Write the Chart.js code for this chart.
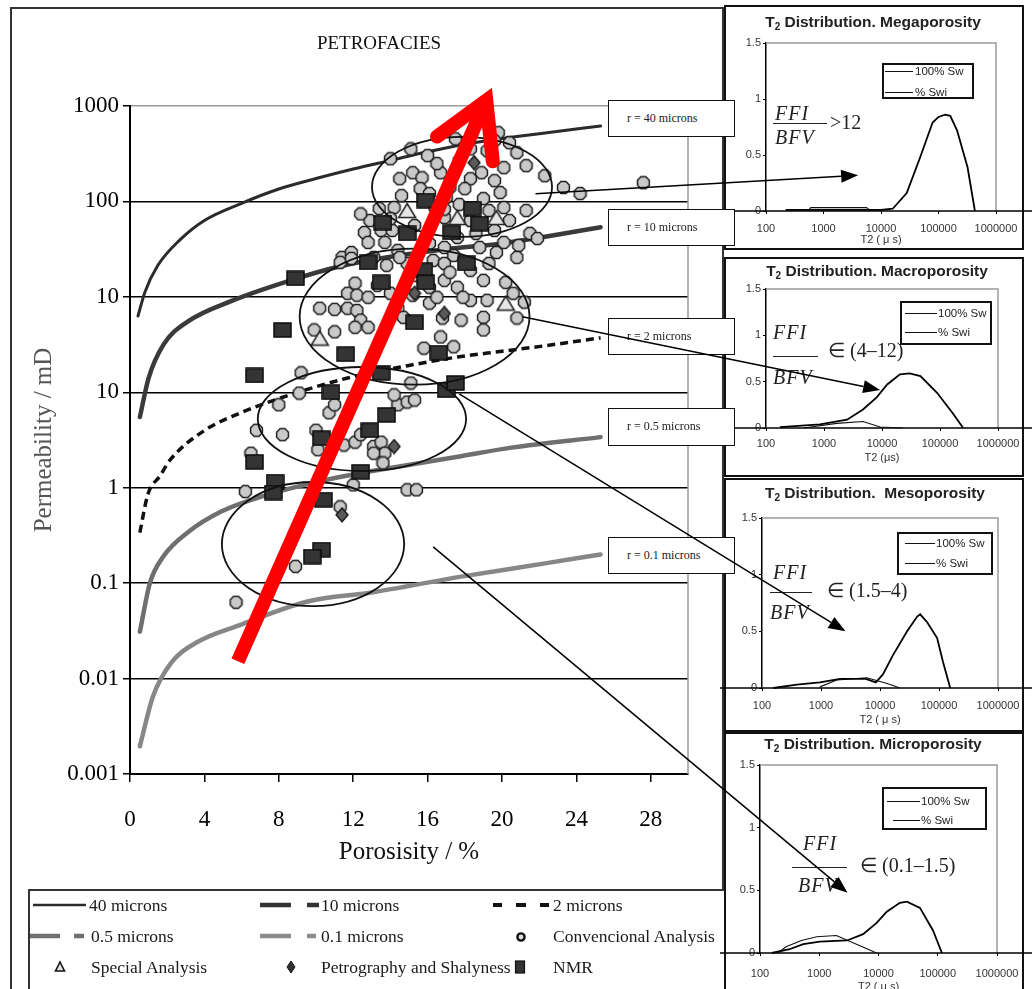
<!DOCTYPE html>
<html>
<head>
<meta charset="utf-8">
<title>Petrofacies</title>
<script src="https://cdn.jsdelivr.net/npm/chart.js@4.4.1/dist/chart.umd.min.js"></script>
<style>
  html, body { margin:0; padding:0; background:#fff; }
  body { position:relative; width:1032px; height:989px; overflow:hidden; font-family:'Liberation Serif','Times New Roman',serif; color:#111; }
  .abs { position:absolute; }
  #frame { left:10px; top:7px; width:714px; height:1010px; border:2px solid #333; box-sizing:border-box; z-index:0; }
  #mainCanvas { left:10px; top:7px; z-index:1; }
  #mainTitle { left:279px; top:33px; width:200px; text-align:center; font-size:19px; line-height:20px; z-index:2; color:#111; }
  #legendBox { left:28px; top:889px; width:712px; height:120px; border:2px solid #333; box-sizing:border-box; z-index:1; background:#fff; }
  #legendSym { left:0; top:880px; z-index:2; }
  .lg { position:absolute; font-size:17.5px; line-height:20px; white-space:nowrap; z-index:2; color:#1a1a1a; }
  .rbox { position:absolute; left:608px; width:127px; border:1.5px solid #111; box-sizing:border-box; background:#fff; z-index:5; font-size:12px; padding-left:18px; white-space:nowrap; color:#222; }
  .panel { position:absolute; left:724px; width:300px; border:2px solid #111; box-sizing:border-box; background:#fff; z-index:3; }
  .pcanvas { position:absolute; left:716px; z-index:4; }
  .ptitle { position:absolute; width:260px; text-align:center; font-family:'Liberation Sans',Arial,sans-serif; font-weight:bold; font-size:15.5px; line-height:18px; z-index:6; white-space:pre; color:#222; }
  .ptitle .sub { font-size:10px; vertical-align:-3px; }
  .plegend { position:absolute; border:2px solid #111; box-sizing:border-box; background:#fff; z-index:6; }
  .prow { position:absolute; font-family:'Liberation Sans',Arial,sans-serif; font-size:11.5px; line-height:12px; white-space:nowrap; z-index:7; color:#222; }
  .pline { position:absolute; height:0; border-top:1.3px solid #111; z-index:7; }
  .fx { position:absolute; font-style:italic; font-size:20px; line-height:22px; z-index:6; white-space:nowrap; color:#222; letter-spacing:1px; }
  .fx.up { font-style:normal; letter-spacing:0; }
  .fbar { position:absolute; height:0; border-top:1.5px solid #222; z-index:6; }
  #overlay { left:0; top:0; z-index:8; pointer-events:none; }
</style>
</head>
<body>
<div id="frame" class="abs"></div>
<canvas id="mainCanvas" class="abs" width="713" height="880"></canvas>
<div id="mainTitle" class="abs">PETROFACIES</div>

<div id="legendBox" class="abs"></div>
<svg id="legendSym" class="abs" width="740" height="109">
  <line x1="33" y1="25" x2="86" y2="25" stroke="#2b2b2b" stroke-width="2.5"/>
  <line x1="260" y1="25" x2="291" y2="25" stroke="#333" stroke-width="4.5"/>
  <line x1="307" y1="25" x2="319" y2="25" stroke="#333" stroke-width="4.5"/>
  <g stroke="#111" stroke-width="4">
    <line x1="493" y1="25" x2="502" y2="25"/><line x1="516" y1="25" x2="526" y2="25"/><line x1="540" y1="25" x2="549" y2="25"/>
  </g>
  <line x1="30" y1="56" x2="60" y2="56" stroke="#6f6f6f" stroke-width="4.5"/>
  <line x1="74" y1="56" x2="84" y2="56" stroke="#6f6f6f" stroke-width="4.5"/>
  <line x1="260" y1="56" x2="291" y2="56" stroke="#8a8a8a" stroke-width="4.5"/>
  <line x1="307" y1="56" x2="316" y2="56" stroke="#8a8a8a" stroke-width="4.5"/>
  <circle cx="521" cy="57" r="3.6" fill="#dcdcdc" stroke="#111" stroke-width="2.4"/>
  <polygon points="60,82 64.5,91 55.5,91" fill="#e4e4e4" stroke="#111" stroke-width="1.6"/>
  <polygon points="291,81 295,87 291,93 287,87" fill="#333" stroke="#111" stroke-width="1"/>
  <rect x="515.5" y="81" width="9" height="12" fill="#333" stroke="#111" stroke-width="1.2"/>
</svg>
<div class="lg" style="left:89px;top:895px">40 microns</div>
<div class="lg" style="left:321px;top:895px">10 microns</div>
<div class="lg" style="left:553px;top:895px">2 microns</div>
<div class="lg" style="left:91px;top:926px">0.5 microns</div>
<div class="lg" style="left:321px;top:926px">0.1 microns</div>
<div class="lg" style="left:553px;top:926px">Convencional Analysis</div>
<div class="lg" style="left:91px;top:957px">Special Analysis</div>
<div class="lg" style="left:321px;top:957px">Petrography and Shalyness</div>
<div class="lg" style="left:553px;top:957px">NMR</div>

<div class="rbox" style="top:100px;height:37px;line-height:34px">r = 40 microns</div>
<div class="rbox" style="top:209px;height:37px;line-height:34px">r = 10 microns</div>
<div class="rbox" style="top:318px;height:37px;line-height:34px">r = 2 microns</div>
<div class="rbox" style="top:408px;height:38px;line-height:35px">r = 0.5 microns</div>
<div class="rbox" style="top:537px;height:37px;line-height:34px">r = 0.1 microns</div>

<canvas id="overlay" class="abs" width="1032" height="989"></canvas>

<script>
// ---------- Main plot: permeability vs porosity ----------
const porosityTicks = [0, 4, 8, 12, 16, 20, 24, 28];
const permTickValues = [0.001, 0.01, 0.1, 1, 10, 100, 1000, 10000];
const permTickLabels = ['0.001', '0.01', '0.1', '1', '10', '10', '100', '1000'];

// Pore-throat radius iso-lines (porosity %, permeability mD)
const r40Phi = [0.43, 0.8, 1.5, 2.7, 4, 6, 8, 10, 12, 14, 16, 18, 20, 22, 25.3];
const r40K   = [63, 112, 214, 398, 631, 955, 1349, 1738, 2188, 2692, 3311, 3981, 4571, 5129, 6166];
const r10Phi = [0.53, 1.0, 1.8, 3.1, 5.5, 8.6, 11.3, 14, 17, 20, 22, 25.3];
const r10K   = [5.5, 14.1, 31.6, 55.0, 91.2, 148, 209, 263, 316, 363, 417, 537];
const r2Phi  = [0.53, 0.96, 1.6, 2.2, 4, 5.9, 8.1, 11.7, 15, 17.6, 20, 22.4, 25.3];
const r2K    = [0.339, 0.851, 1.32, 2.0, 3.98, 6.03, 8.71, 14.1, 19.1, 23.4, 26.9, 30.9, 37.2];
const r05Phi = [0.53, 1.07, 1.8, 3.1, 4.9, 7.3, 10.5, 14.4, 17.8, 20.5, 25.3];
const r05K   = [0.0309, 0.1, 0.191, 0.339, 0.562, 0.832, 1.2, 1.66, 2.14, 2.63, 3.39];
const r01Phi = [0.53, 1.23, 2.2, 3.6, 5.9, 9.6, 12.9, 17.8, 22.4, 25.3];
const r01K   = [0.00195, 0.00646, 0.0145, 0.024, 0.0363, 0.0646, 0.0794, 0.117, 0.162, 0.2];

// Samples [porosity %, permeability mD]
const conventional = [
  [19.8,5250],[20.4,4120],[20.8,3240],[21.3,2370],[22.3,1860],[23.3,1400],[24.2,1210],[20.1,2260],[19.6,1650],[19.9,1240],
  [18.9,2000],[18.3,1730],[18.0,1360],[17.2,1400],[16.7,2000],[16.5,2490],[15.2,2000],[15.7,1770],[15.6,1360],[14.6,1150],
  [14.2,863],[13.4,843],[19.0,1070],[19.3,803],[20.1,863],[21.3,803],[20.4,631],[21.5,462],[21.9,409],[20.9,346],
  [20.1,372],[19.6,496],[18.6,462],[18.3,631],[16.9,678],[16.4,863],[16.1,1210],[17.0,1100],[12.9,631],[12.6,473],
  [13.5,496],[14.1,496],[12.8,372],[13.7,372],[14.4,307],[11.4,259],[11.9,292],[16.1,363],[16.9,330],[17.6,419],
  [18.8,330],[19.7,292],[20.8,259],[27.6,1570],[16.0,3020],[17.7,2670],[19.2,3400],[19.6,4330],
  [14.5,1730],[14.0,2800],[17.5,4530],[15.1,3550],[18.3,3550],[16.9,830],[17.7,930],[14.0,660],[12.4,740],[15.3,560],
  [11.3,230],[12.1,139],[11.7,109],[12.2,104],[12.8,99],[10.2,76],[11.0,74],[11.7,76],[12.2,72],[12.4,57],
  [12.1,48],[12.8,48],[9.9,45],[11.0,43],[14.0,109],[14.4,76],[14.7,61],[16.1,86],[16.1,126],[16.9,149],
  [17.6,126],[18.3,92],[19.2,92],[17.9,99],[16.5,99],[14.9,224],[16.3,241],[16.9,224],[17.2,181],[18.3,190],
  [19.3,224],[19.0,149],[20.2,142],[20.6,109],[21.2,88],[19.0,61],[19.0,45],[16.7,38],[15.8,29],[17.4,30],
  [17.4,272],[14.5,259],[13.1,259],[11.9,253],[13.8,214],[15.4,168],[13.3,132],[15.2,104],[16.8,60],[17.8,57],[20.8,60],
  [9.2,16],[9.1,9.8],[8.0,7.4],[6.8,4.0],[8.2,3.6],[10.0,4.0],[10.7,6.1],[11.0,7.4],[11.5,2.8],[12.1,3.0],
  [12.4,3.6],[13.1,2.7],[13.5,3.0],[13.7,2.3],[13.1,2.3],[13.6,1.82],[14.4,7.4],[14.9,7.9],[15.3,8.3],[14.2,9.4],
  [15.1,12.5],[10.1,2.5],[6.5,2.3],[6.2,0.91],[12.0,1.07],[11.3,0.63],[14.9,0.95],[15.4,0.95],[8.9,0.15],[5.7,0.063]
];
const special = [[14.9,803],[17.6,678],[19.7,678],[20.2,86],[10.2,37]];
const petrography = [[16.9,67],[15.3,109],[14.2,2.7],[11.4,0.52],[18.5,2550]];
const nmr = [
  [8.9,156],[12.8,230],[13.5,142],[15.8,190],[15.9,142],[18.1,224],[15.3,54],[8.2,45],[11.6,25],[16.6,26],
  [10.8,10],[13.5,16],[17.0,10.5],[17.5,12.5],[6.7,15],[13.8,5.8],[12.9,4.0],[10.3,3.3],[6.7,1.87],[7.8,1.16],
  [7.7,0.89],[12.4,1.47],[10.4,0.75],[10.3,0.225],[9.8,0.19],[15.9,1020],[18.4,843],[18.8,587],[17.3,473],[14.9,462],[13.6,601]
];

// Petrofacies groups (centre porosity, centre permeability, half-width in %, half-height in decades)
const groupPhi = [17.85, 15.3, 12.47, 9.84];
const groupK = [1420, 62, 5.25, 0.257];
const groupHalfPhi = [4.84, 6.18, 5.6, 4.9];
const groupHalfDecades = [0.524, 0.713, 0.545, 0.65];

// Quality trend arrow, [porosity, permeability]
const trendFrom = [5.8, 0.0152];
const trendTo = [19.46, 15500];

// ---------- T2 distribution panels ----------
const t2Ticks = [100, 1000, 10000, 100000, 1000000];
const t2TickLabels = ['100', '1000', '10000', '100000', '1000000'];
const ampTicks = [0, 0.5, 1, 1.5];
const ampTickLabels = ['0', '0.5', '1', '1.5'];

const megaT2Sw   = [220, 1000, 10000, 16000, 28000, 48000, 79000, 100000, 130000, 160000, 210000, 320000, 430000];
const megaAmpSw  = [0.01, 0.01, 0.01, 0.02, 0.16, 0.48, 0.79, 0.84, 0.86, 0.85, 0.72, 0.39, 0];
const megaT2Swi  = [560, 600, 5600, 6300];
const megaAmpSwi = [0.01, 0.03, 0.03, 0.01];

const macroT2Sw   = [174, 850, 2500, 4700, 8100, 12300, 20400, 30000, 46000, 89000, 166000, 251000];
const macroAmpSw  = [0.01, 0.04, 0.09, 0.2, 0.33, 0.47, 0.58, 0.59, 0.56, 0.38, 0.16, 0];
const macroT2Swi  = [440, 1660, 4700, 9300, 23000];
const macroAmpSwi = [0, 0.05, 0.07, 0.01, 0];

const mesoT2Sw   = [155, 390, 955, 2100, 5750, 8500, 11200, 16600, 28800, 42700, 47900, 63000, 93000, 117000, 155000];
const mesoAmpSw  = [0, 0.03, 0.05, 0.08, 0.08, 0.05, 0.12, 0.29, 0.5, 0.63, 0.65, 0.58, 0.44, 0.23, 0];
const mesoT2Swi  = [955, 1860, 6000, 13200, 21900];
const mesoAmpSwi = [0.01, 0.07, 0.09, 0.04, 0];

const microT2Sw   = [158, 316, 537, 1020, 2950, 5500, 9300, 13800, 22900, 30200, 50100, 83200, 117500];
const microAmpSw  = [0, 0.03, 0.07, 0.09, 0.1, 0.15, 0.24, 0.33, 0.4, 0.41, 0.36, 0.18, 0];
const microT2Swi  = [200, 275, 500, 910, 1950, 3800, 9300];
const microAmpSwi = [0, 0.05, 0.1, 0.13, 0.14, 0.08, 0];

// Links from each petrofacies group to its T2 panel
const linkFromPhi = [21.8, 21.1, 17.7, 16.3];
const linkFromK = [1200, 62, 9.6, 0.24];
const linkToT2 = [4000, 9300, 2600, 3000];
const linkToAmp = [0.32, 0.41, 0.5, 0.48];

// ---------- helpers ----------
const SERIF = "'Liberation Serif', 'Times New Roman', serif";
const SANS = "'Liberation Sans', Arial, sans-serif";
const pairsXY = arr => arr.map(([x, y]) => ({x, y}));
const toXY = (xs, ys) => xs.map((v, i) => ({x: v, y: ys[i]}));
const setTicks = values => scale => { scale.ticks = values.map(v => ({value: v})); };

function marker(w, h, paint) {
  const c = document.createElement('canvas');
  c.width = w; c.height = h;
  paint(c.getContext('2d'));
  return c;
}
const octMarker = marker(15, 15, g => {
  g.beginPath();
  for (let i = 0; i < 8; i++) {
    const a = Math.PI / 8 + i * Math.PI / 4;
    g.lineTo(7.5 + 6.4 * Math.cos(a), 7.5 + 6.4 * Math.sin(a));
  }
  g.closePath(); g.fillStyle = '#c9c9c9'; g.fill();
  g.lineWidth = 1.5; g.strokeStyle = '#1d1d1d'; g.stroke();
});
const nmrMarker = marker(19, 16, g => {
  g.fillStyle = '#343434'; g.fillRect(1, 1, 17, 14);
  g.lineWidth = 1.5; g.strokeStyle = '#0a0a0a'; g.strokeRect(1, 1, 17, 14);
});
const triMarker = marker(20, 17, g => {
  g.beginPath(); g.moveTo(10, 1.5); g.lineTo(18.5, 15.5); g.lineTo(1.5, 15.5); g.closePath();
  g.fillStyle = '#e6e6e6'; g.fill(); g.lineWidth = 1.5; g.strokeStyle = '#222'; g.stroke();
});
const diaMarker = marker(14, 16, g => {
  g.beginPath(); g.moveTo(7, 1); g.lineTo(13, 8); g.lineTo(7, 15); g.lineTo(1, 8); g.closePath();
  g.fillStyle = '#5a5a5a'; g.fill(); g.lineWidth = 1.3; g.strokeStyle = '#111'; g.stroke();
});

// ---------- main chart ----------
const curveDefs = [
  {label: '40 microns',  phi: r40Phi, k: r40K, color: '#2b2b2b', width: 3,   dash: []},
  {label: '10 microns',  phi: r10Phi, k: r10K, color: '#3a3a3a', width: 4.5, dash: []},
  {label: '2 microns',   phi: r2Phi,  k: r2K,  color: '#111111', width: 3.5, dash: [8, 5]},
  {label: '0.5 microns', phi: r05Phi, k: r05K, color: '#6f6f6f', width: 4.5, dash: []},
  {label: '0.1 microns', phi: r01Phi, k: r01K, color: '#878787', width: 4.5, dash: []}
];

const mainDecor = {
  id: 'mainDecor',
  beforeDatasetsDraw(chart) {
    const {ctx, chartArea: a} = chart;
    ctx.save();
    ctx.strokeStyle = '#9a9a9a'; ctx.lineWidth = 1.5;
    ctx.beginPath(); ctx.moveTo(a.right, a.top); ctx.lineTo(a.right, a.bottom); ctx.stroke();
    ctx.restore();
  },
  afterDatasetsDraw(chart) {
    const {ctx, scales: {x, y}} = chart;
    ctx.save();
    // petrofacies ellipses
    ctx.strokeStyle = '#111'; ctx.lineWidth = 1.8;
    groupPhi.forEach((p, i) => {
      const cx = x.getPixelForValue(p), cy = y.getPixelForValue(groupK[i]);
      const rx = x.getPixelForValue(p + groupHalfPhi[i]) - cx;
      const ry = cy - y.getPixelForValue(groupK[i] * Math.pow(10, groupHalfDecades[i]));
      ctx.beginPath(); ctx.ellipse(cx, cy, rx, ry, 0, 0, Math.PI * 2); ctx.stroke();
    });
    // reservoir-quality trend arrow
    const x0 = x.getPixelForValue(trendFrom[0]), y0 = y.getPixelForValue(trendFrom[1]);
    const x1 = x.getPixelForValue(trendTo[0]), y1 = y.getPixelForValue(trendTo[1]);
    const len = Math.hypot(x1 - x0, y1 - y0), ux = (x1 - x0) / len, uy = (y1 - y0) / len;
    const w = 14, spread = 30 * Math.PI / 180, wing = 61;
    const tx = x1 - ux * (w / 2) / Math.sin(spread), ty = y1 - uy * (w / 2) / Math.sin(spread);
    ctx.strokeStyle = '#ff0000'; ctx.lineWidth = w;
    ctx.lineCap = 'butt';
    ctx.beginPath(); ctx.moveTo(x0, y0); ctx.lineTo(tx, ty); ctx.stroke();
    const back = Math.atan2(-uy, -ux);
    ctx.lineCap = 'round'; ctx.lineJoin = 'miter'; ctx.miterLimit = 10;
    ctx.beginPath();
    ctx.moveTo(tx + wing * Math.cos(back + spread), ty + wing * Math.sin(back + spread));
    ctx.lineTo(tx, ty);
    ctx.lineTo(tx + wing * Math.cos(back - spread), ty + wing * Math.sin(back - spread));
    ctx.stroke();
    ctx.restore();
  }
};

const mainChart = new Chart(document.getElementById('mainCanvas'), {
  type: 'scatter',
  data: {
    datasets: [
      ...curveDefs.map(c => ({
        label: c.label, data: toXY(c.phi, c.k), showLine: true,
        borderColor: c.color, borderWidth: c.width, borderDash: c.dash,
        borderCapStyle: c.dash.length ? 'butt' : 'round',
        pointRadius: 0, cubicInterpolationMode: 'monotone', order: 10
      })),
      {label: 'Convencional Analysis', data: pairsXY(conventional), pointStyle: octMarker, pointRadius: 7, order: 4},
      {label: 'NMR', data: pairsXY(nmr), pointStyle: nmrMarker, pointRadius: 8, order: 3},
      {label: 'Special Analysis', data: pairsXY(special), pointStyle: triMarker, pointRadius: 8, order: 2},
      {label: 'Petrography and Shalyness', data: pairsXY(petrography), pointStyle: diaMarker, pointRadius: 7, order: 1}
    ]
  },
  options: {
    responsive: false, animation: false, events: [],
    layout: {padding: {top: 99, right: 35, bottom: 0, left: 0}},
    plugins: {legend: {display: false}, tooltip: {enabled: false}},
    scales: {
      x: {
        type: 'linear', min: 0, max: 30,
        afterBuildTicks: setTicks(porosityTicks),
        afterFit: s => { s.height = 113; },
        grid: {drawOnChartArea: false, drawTicks: true, tickLength: 8, color: '#000', lineWidth: 1.5},
        border: {display: true, color: '#000', width: 2},
        ticks: {autoSkip: false, maxRotation: 0, padding: 24, color: '#000', font: {family: SERIF, size: 23}, callback: v => String(v)},
        title: {display: true, text: 'Porosisity / %', color: '#111', font: {family: SERIF, size: 25}, padding: {top: 0, bottom: 20}}
      },
      y: {
        type: 'logarithmic', min: 0.001, max: 10000,
        afterBuildTicks: setTicks(permTickValues),
        afterFit: s => { s.width = 120; },
        grid: {
          color: c => (c.tick && c.tick.value === 10000) ? '#9a9a9a' : '#000',
          lineWidth: 1.5, tickLength: 7, tickColor: '#000', tickWidth: 1.5
        },
        border: {display: true, color: '#000', width: 2},
        ticks: {autoSkip: false, padding: 4, color: '#000', font: {family: SERIF, size: 23}, callback: (v, i) => permTickLabels[i]},
        title: {display: true, text: 'Permeability / mD', color: '#555', font: {family: SERIF, size: 25}, padding: {top: 19, bottom: 0}}
      }
    }
  },
  plugins: [mainDecor]
});

// ---------- T2 panels ----------
const panelSeries = [
  {sw: toXY(megaT2Sw, megaAmpSw),   swi: toXY(megaT2Swi, megaAmpSwi)},
  {sw: toXY(macroT2Sw, macroAmpSw), swi: toXY(macroT2Swi, macroAmpSwi)},
  {sw: toXY(mesoT2Sw, mesoAmpSw),   swi: toXY(mesoT2Swi, mesoAmpSwi)},
  {sw: toXY(microT2Sw, microAmpSw), swi: toXY(microT2Swi, microAmpSwi)}
];

const panelLayout = [
  {top: 5, boxH: 245, canvasH: 245, yw: 50, padR: 36, padT: 38, plotBottom: 206, lblPad: 8, titlePadB: 3,
   title: 'T<span class="sub">2</span> Distribution. Megaporosity', titleC: [873, 22], xTitle: 'T2 ( \u03bc s)',
   legend: {x: 882, y: 63, w: 92, h: 36, rows: [[71, 885, 913, 915], [92, 885, 913, 915]]},
   ffi: [775, 113], bar: [773, 827, 123], bfv: [775, 137], rel: '&gt;12', relAt: [830, 122]},
  {top: 257, boxH: 220, canvasH: 218, yw: 50, padR: 34, padT: 32, plotBottom: 171, lblPad: 6, titlePadB: 10,
   title: 'T<span class="sub">2</span> Distribution. Macroporosity', titleC: [877, 271], xTitle: 'T2 (\u03bcs)',
   legend: {x: 900, y: 301, w: 92, h: 44, rows: [[313, 905, 937, 938], [332, 905, 937, 938]]},
   ffi: [773, 332], bar: [773, 818, 356], bfv: [773, 377], rel: '\u2208 (4\u201312)', relAt: [828, 350]},
  {top: 478, boxH: 254, canvasH: 252, yw: 46, padR: 34, padT: 40, plotBottom: 210, lblPad: 8, titlePadB: 3,
   title: 'T<span class="sub">2</span> Distribution.  Mesoporosity', titleC: [875, 493], xTitle: 'T2 ( \u03bc s)',
   legend: {x: 897, y: 532, w: 96, h: 43, rows: [[543, 905, 935, 936], [563, 905, 935, 936]]},
   ffi: [773, 572], bar: [770, 812, 592], bfv: [770, 612], rel: '\u2208 (1.5\u20134)', relAt: [827, 590]},
  {top: 732, boxH: 270, canvasH: 262, yw: 44, padR: 35, padT: 33, plotBottom: 221, lblPad: 11, titlePadB: 0,
   title: 'T<span class="sub">2</span> Distribution. Microporosity', titleC: [873, 744], xTitle: 'T2 ( \u03bc s)',
   legend: {x: 882, y: 787, w: 105, h: 43, rows: [[801, 887, 920, 921], [820, 893, 920, 921]]},
   ffi: [803, 843], bar: [792, 847, 867], bfv: [798, 885], rel: '\u2208 (0.1\u20131.5)', relAt: [860, 865]}
];

function el(tag, cls, style, html) {
  const e = document.createElement(tag);
  if (cls) e.className = cls;
  Object.assign(e.style, style);
  if (html != null) e.innerHTML = html;
  document.body.appendChild(e);
  return e;
}

const panelFrame = {
  id: 'panelFrame',
  beforeDatasetsDraw(chart) {
    const {ctx, chartArea: a, scales: {y}} = chart;
    ctx.save();
    ctx.strokeStyle = '#9a9a9a'; ctx.lineWidth = 1.5;
    ctx.beginPath(); ctx.moveTo(a.left, a.top); ctx.lineTo(a.right, a.top); ctx.lineTo(a.right, a.bottom); ctx.stroke();
    const y0 = y.getPixelForValue(0);
    ctx.strokeStyle = '#000'; ctx.lineWidth = 1.5;
    ctx.beginPath(); ctx.moveTo(4, y0); ctx.lineTo(chart.width, y0); ctx.stroke();
    ctx.restore();
  }
};

const panelCharts = panelLayout.map((p, i) => {
  el('div', 'panel', {top: p.top + 'px', height: p.boxH + 'px'});
  const cv = el('canvas', 'pcanvas', {top: p.top + 'px'});
  cv.width = 316; cv.height = p.canvasH;
  el('div', 'ptitle', {left: (p.titleC[0] - 130) + 'px', top: (p.titleC[1] - 9) + 'px'}, p.title);
  const lg = p.legend;
  el('div', 'plegend', {left: lg.x + 'px', top: lg.y + 'px', width: lg.w + 'px', height: lg.h + 'px'});
  ['100% Sw', '% Swi'].forEach((name, r) => {
    const [cy, l0, l1, tx] = lg.rows[r];
    el('div', 'pline', {left: l0 + 'px', top: cy + 'px', width: (l1 - l0) + 'px'});
    el('div', 'prow', {left: tx + 'px', top: (cy - 6) + 'px'}, name);
  });
  el('div', 'fx', {left: p.ffi[0] + 'px', top: (p.ffi[1] - 11) + 'px'}, 'FFI');
  el('div', 'fbar', {left: p.bar[0] + 'px', top: p.bar[2] + 'px', width: (p.bar[1] - p.bar[0]) + 'px'});
  el('div', 'fx', {left: p.bfv[0] + 'px', top: (p.bfv[1] - 11) + 'px'}, 'BFV');
  el('div', 'fx up', {left: p.relAt[0] + 'px', top: (p.relAt[1] - 11) + 'px'}, p.rel);

  const s = panelSeries[i];
  return new Chart(cv, {
    type: 'scatter',
    data: {
      datasets: [
        {label: '100% Sw', data: s.sw, showLine: true, borderColor: '#000', borderWidth: 1.8, pointRadius: 0, clip: 4},
        {label: '% Swi', data: s.swi, showLine: true, borderColor: '#111', borderWidth: 1.1, pointRadius: 0, clip: 4}
      ]
    },
    options: {
      responsive: false, animation: false, events: [],
      layout: {padding: {top: p.padT, right: p.padR, bottom: 0, left: 0}},
      plugins: {legend: {display: false}, tooltip: {enabled: false}},
      scales: {
        x: {
          type: 'logarithmic', min: 100, max: 1000000,
          afterBuildTicks: setTicks(t2Ticks),
          afterFit: sc => { sc.height = p.canvasH - p.plotBottom; },
          grid: {drawOnChartArea: false, tickLength: 3, color: '#000', lineWidth: 1},
          border: {display: false},
          ticks: {autoSkip: false, maxRotation: 0, padding: p.lblPad, color: '#333', font: {family: SANS, size: 11}, callback: (v, k) => t2TickLabels[k]},
          title: {display: true, text: p.xTitle, color: '#333', font: {family: SANS, size: 11}, padding: {top: 0, bottom: p.titlePadB}}
        },
        y: {
          type: 'linear', min: 0, max: 1.5,
          afterBuildTicks: setTicks(ampTicks),
          afterFit: sc => { sc.width = p.yw; },
          grid: {drawOnChartArea: false, tickLength: 3, color: '#000', lineWidth: 1},
          border: {display: true, color: '#000', width: 1.5},
          ticks: {autoSkip: false, padding: 2, color: '#333', font: {family: SANS, size: 11}, callback: (v, k) => ampTickLabels[k]}
        }
      }
    },
    plugins: [panelFrame]
  });
});

// ---------- links from groups to panels ----------
(function drawLinks() {
  const g = document.getElementById('overlay').getContext('2d');
  const mx = 10, my = 7;
  g.strokeStyle = '#000'; g.fillStyle = '#000'; g.lineWidth = 1.5;
  linkFromPhi.forEach((phi, i) => {
    const x0 = mx + mainChart.scales.x.getPixelForValue(phi);
    const y0 = my + mainChart.scales.y.getPixelForValue(linkFromK[i]);
    const pc = panelCharts[i];
    const x1 = 716 + pc.scales.x.getPixelForValue(linkToT2[i]);
    const y1 = panelLayout[i].top + pc.scales.y.getPixelForValue(linkToAmp[i]);
    const len = Math.hypot(x1 - x0, y1 - y0), ux = (x1 - x0) / len, uy = (y1 - y0) / len;
    const head = 17, half = 6.5;
    const bx = x1 - ux * head, by = y1 - uy * head;
    g.beginPath(); g.moveTo(x0, y0); g.lineTo(bx, by); g.stroke();
    g.beginPath(); g.moveTo(x1, y1);
    g.lineTo(bx - uy * half, by + ux * half);
    g.lineTo(bx + uy * half, by - ux * half);
    g.closePath(); g.fill();
  });
})();
</script>
</body>
</html>
